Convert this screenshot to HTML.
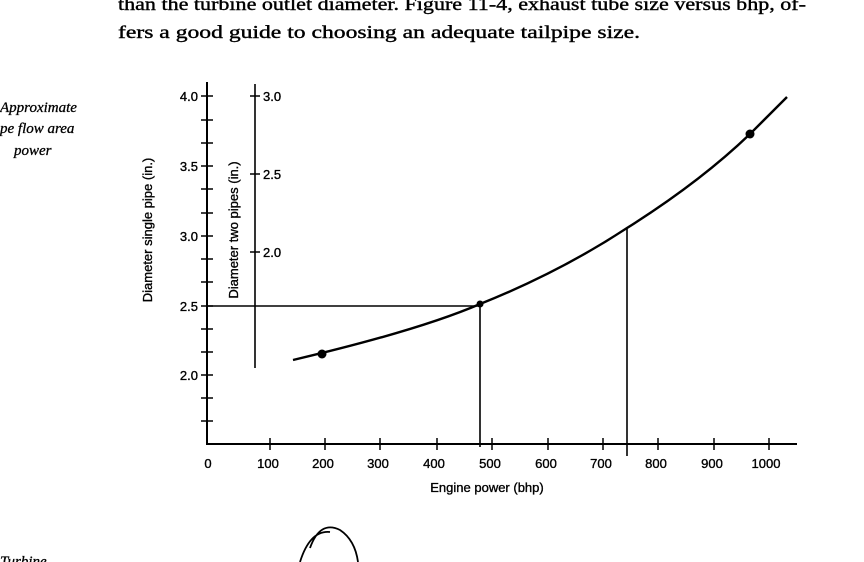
<!DOCTYPE html>
<html><head><style>
html,body{margin:0;padding:0;background:#fff;width:864px;height:562px;overflow:hidden}
svg{display:block}
.s{font-family:"Liberation Sans",sans-serif;font-size:13px;fill:#000;stroke:#000;stroke-width:0.35}
.t{font-family:"Liberation Serif",serif;font-size:18px;fill:#000;stroke:#000;stroke-width:0.4}
.i{font-family:"Liberation Serif",serif;font-size:15px;font-style:italic;fill:#000;stroke:#000;stroke-width:0.3}
</style></head><body>
<svg width="864" height="562" viewBox="0 0 864 562">
<text class="t" x="118" y="10" textLength="688" lengthAdjust="spacingAndGlyphs">than the turbine outlet diameter. Figure 11-4, exhaust tube size versus bhp, of-</text>
<text class="t" x="118" y="38" textLength="522" lengthAdjust="spacingAndGlyphs">fers a good guide to choosing an adequate tailpipe size.</text>
<text class="i" x="0" y="112">Approximate</text>
<text class="i" x="0" y="133">pe flow area</text>
<text class="i" x="14" y="155">power</text>
<text class="i" x="0" y="566">Turbine</text>
<g stroke="#000" fill="none" stroke-width="2">
<path d="M207 82 V444 H797"/>
<path d="M255 84 V368" stroke-width="1.6"/>
<g stroke-width="1.5">
<path d="M201 96h12M201 120h12M201 143h12M201 166h12M201 189h12M201 213h12M201 236h12M201 259h12M201 282h12M201 306h12M201 329h12M201 352h12M201 375h12M201 398h12M201 421h12"/>
<path d="M250 96h10M250 174h10M250 252h10"/>
<path d="M270 438v12M325 438v12M380 438v12M437 438v12M492 438v12M548 438v12M603 438v12M658 438v12M714 438v12M769 438v12"/>
</g>
<path d="M207 306 H480 V447" stroke-width="1.6"/>
<path d="M627 228 V456" stroke-width="1.6"/>
<path d="M293 360 Q420 330 480 304 Q560 272 627 228 Q700 182 750 134 L787 97" stroke-width="2.4"/>
<path d="M310 548 Q320 520 340 530 Q355 540 358 562 M300 562 Q310 530 330 532" stroke-width="1.8"/>
</g>
<g fill="#000"><circle cx="322" cy="354" r="4.5"/><circle cx="480" cy="304" r="3.5"/><circle cx="750" cy="134" r="4.5"/></g>
<g class="s" text-anchor="end">
<text x="198" y="101">4.0</text><text x="198" y="171">3.5</text><text x="198" y="241">3.0</text><text x="198" y="311">2.5</text><text x="198" y="380">2.0</text>
</g>
<g class="s"><text x="263" y="101">3.0</text><text x="263" y="179">2.5</text><text x="263" y="257">2.0</text></g>
<g class="s" text-anchor="middle">
<text x="208" y="468">0</text><text x="268" y="468">100</text><text x="323" y="468">200</text><text x="378" y="468">300</text><text x="434" y="468">400</text><text x="490" y="468">500</text><text x="546" y="468">600</text><text x="601" y="468">700</text><text x="656" y="468">800</text><text x="712" y="468">900</text><text x="766" y="468">1000</text>
<text x="487" y="492">Engine power (bhp)</text>
<text transform="translate(152,230) rotate(-90)">Diameter single pipe (in.)</text>
<text transform="translate(238,230) rotate(-90)">Diameter two pipes (in.)</text>
</g>
</svg>
</body></html>
